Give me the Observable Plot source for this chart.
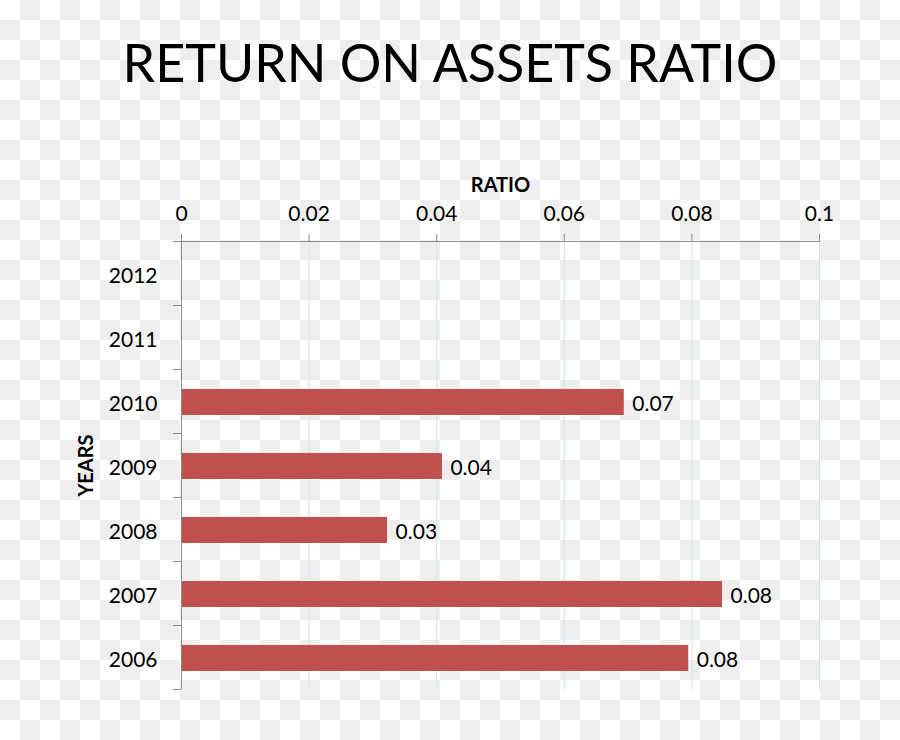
<!DOCTYPE html>
<html>
<head>
<meta charset="utf-8">
<script src="https://cdn.jsdelivr.net/npm/d3@7"></script>
<script src="https://cdn.jsdelivr.net/npm/@observablehq/plot@0.6"></script>
<style>
  html, body { margin: 0; padding: 0; }
  body {
    width: 900px; height: 740px; overflow: hidden;
    background: repeating-conic-gradient(#eeeeee 0 25%, #ffffff 0 50%) 0 0 / 40px 40px;
    font-family: Lato, "Open Sans", sans-serif;
  }
  #title {
    height: 130px; box-sizing: border-box; padding-top: 36px;
    text-align: center; font-size: 52px; line-height: 1; color: #000;
  }
</style>
</head>
<body>
<div id="title">RETURN ON ASSETS RATIO</div>
<div id="chart"></div>
<script>
const years = ["2012", "2011", "2010", "2009", "2008", "2007", "2006"];
const ratios = [null, null, 0.0694, 0.0409, 0.0323, 0.0848, 0.0795];
const xTicks = [0, 0.02, 0.04, 0.06, 0.08, 0.1];
const xTickLabels = ["0", "0.02", "0.04", "0.06", "0.08", "0.1"];

const data = years.map((year, i) => ({year, value: ratios[i]}));
const labelled = data.filter(d => d.value != null);
const axisColor = "#8c8c8c";

const chart = Plot.plot({
  width: 900,
  height: 610,
  marginTop: 111,
  marginBottom: 51,
  marginLeft: 181,
  marginRight: 81,
  style: {background: "transparent", fontFamily: "Lato, 'Open Sans', sans-serif", color: "#000"},
  x: {domain: [0, 0.1], label: null},
  y: {domain: years, padding: 0, label: null},
  marks: [
    Plot.ruleX(xTicks.slice(1), {stroke: "#d3e0f0", strokeWidth: 1}),
    Plot.barX(data, {x: "value", y: "year", fill: "#c0504d", insetTop: 20, insetBottom: 18}),
    Plot.text(labelled, {x: "value", y: "year", text: d => d.value.toFixed(2), dx: 8, dy: 3, textAnchor: "start", fontSize: 21, fill: "#000"}),
    Plot.ruleX([0], {stroke: axisColor}),
    Plot.ruleY([years[0]], {y: d => d, dy: -32, x1: 0, x2: 0.1, stroke: axisColor}),
    Plot.axisX({anchor: "top", label: null, ticks: xTicks, tickFormat: (d) => xTickLabels[xTicks.indexOf(d)], tickSize: 8, tickPadding: 13, fontSize: 21, stroke: axisColor, fill: "#000", strokeOpacity: 1}),
    Plot.axisY({label: null, tickSize: 0, tickPadding: 24, dy: 3, fontSize: 21, fill: "#000"}),
    Plot.axisY({label: null, tickSize: 8, tickFormat: () => "", dy: -32, stroke: axisColor, strokeOpacity: 1}),
    Plot.axisY({label: null, ticks: [years[years.length - 1]], tickSize: 8, tickFormat: () => "", dy: 32, stroke: axisColor, strokeOpacity: 1}),
    Plot.text(["RATIO"], {frameAnchor: "top", dy: -64, fontWeight: "bold", fontSize: 20, fill: "#000"}),
    Plot.text(["YEARS"], {frameAnchor: "left", textAnchor: "middle", dx: -95, rotate: -90, fontWeight: "bold", fontSize: 20, fill: "#000"})
  ]
});
document.getElementById("chart").appendChild(chart);
</script>
</body>
</html>
